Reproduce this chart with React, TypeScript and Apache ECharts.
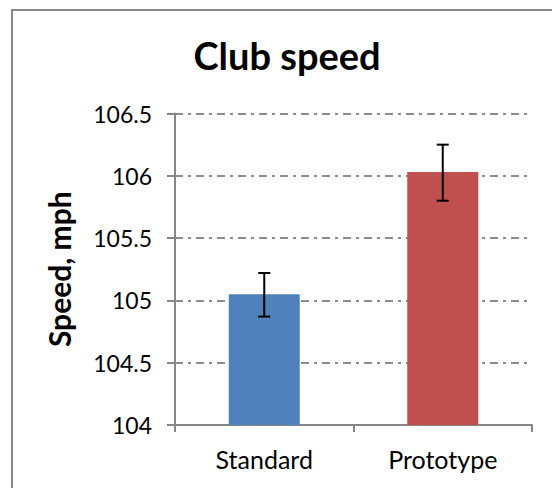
import React, { useEffect, useRef } from "react";
import * as echarts from "echarts";

const categories = ["Standard", "Prototype"];
const means = [105.05, 106.03];
const errLow = [104.87, 105.8];
const errHigh = [105.22, 106.25];
const barColors = ["#4F81BD", "#C0504D"];
const yMin = 104;
const yMax = 106.5;
const yStep = 0.5;
const titleText = "Club speed";
const yAxisTitle = "Speed, mph";

const FONT = "Lato";

export default function App() {
  const ref = useRef<HTMLDivElement>(null);
  useEffect(() => {
    if (!ref.current) return;
    const chart = echarts.init(ref.current, undefined, { renderer: "svg" });
    const errData = categories.map((_, i) => [i, errLow[i], errHigh[i]]);
    chart.setOption({
      animation: false,
      backgroundColor: "#ffffff",
      textStyle: { fontFamily: FONT },
      title: {
        text: titleText,
        left: 287,
        top: 36,
        textAlign: "center",
        padding: 0,
        textStyle: { fontFamily: FONT, fontWeight: "bold", fontSize: 38, color: "#000" },
      },
      graphic: [
        {
          type: "rect",
          shape: { x: 12, y: 10, width: 700, height: 700 },
          style: { fill: "none", stroke: "#888888", lineWidth: 2 },
          silent: true,
          z: 100,
        },
      ],
      grid: { left: 175, right: 20, top: 113.5, bottom: 63, containLabel: false },
      xAxis: {
        type: "category",
        data: categories,
        boundaryGap: true,
        axisLine: { show: true, lineStyle: { color: "#868686", width: 2 } },
        axisTick: { show: true, length: 7, alignWithLabel: false, lineStyle: { color: "#868686", width: 2 } },
        axisLabel: { fontFamily: FONT, fontSize: 25, color: "#000", margin: 21 },
        splitLine: { show: false },
      },
      yAxis: {
        type: "value",
        min: yMin,
        max: yMax,
        interval: yStep,
        name: yAxisTitle,
        nameLocation: "middle",
        nameRotate: 90,
        nameGap: 101,
        nameTextStyle: { fontFamily: FONT, fontWeight: "bold", fontSize: 30, color: "#000" },
        axisLine: { show: true, lineStyle: { color: "#868686", width: 2 } },
        axisTick: { show: true, length: 8, lineStyle: { color: "#868686", width: 2 } },
        axisLabel: { fontFamily: FONT, fontSize: 23, color: "#000", margin: 23 },
        splitLine: { show: true, lineStyle: { color: "#8c8c8c", width: 2, type: [8, 5, 3, 5] } },
      },
      series: [
        {
          type: "bar",
          data: means.map((v, i) => ({ value: v, itemStyle: { color: barColors[i] } })),
          barWidth: 71,
          z: 2,
        },
        {
          type: "custom",
          data: errData,
          z: 5,
          renderItem: (params: any, api: any) => {
            const x = api.value(0);
            const lo = api.coord([x, api.value(1)]);
            const hi = api.coord([x, api.value(2)]);
            const hw = 6;
            const style = { stroke: "#000", lineWidth: 2 };
            return {
              type: "group",
              children: [
                { type: "line", shape: { x1: lo[0], y1: lo[1], x2: hi[0], y2: hi[1] }, style },
                { type: "line", shape: { x1: lo[0] - hw, y1: lo[1], x2: lo[0] + hw, y2: lo[1] }, style },
                { type: "line", shape: { x1: hi[0] - hw, y1: hi[1], x2: hi[0] + hw, y2: hi[1] }, style },
              ],
            };
          },
        },
      ],
    });
    return () => chart.dispose();
  }, []);
  return (
    <div
      ref={ref}
      style={{ position: "absolute", left: 0, top: 0, width: 552, height: 488, background: "#fff" }}
    />
  );
}
